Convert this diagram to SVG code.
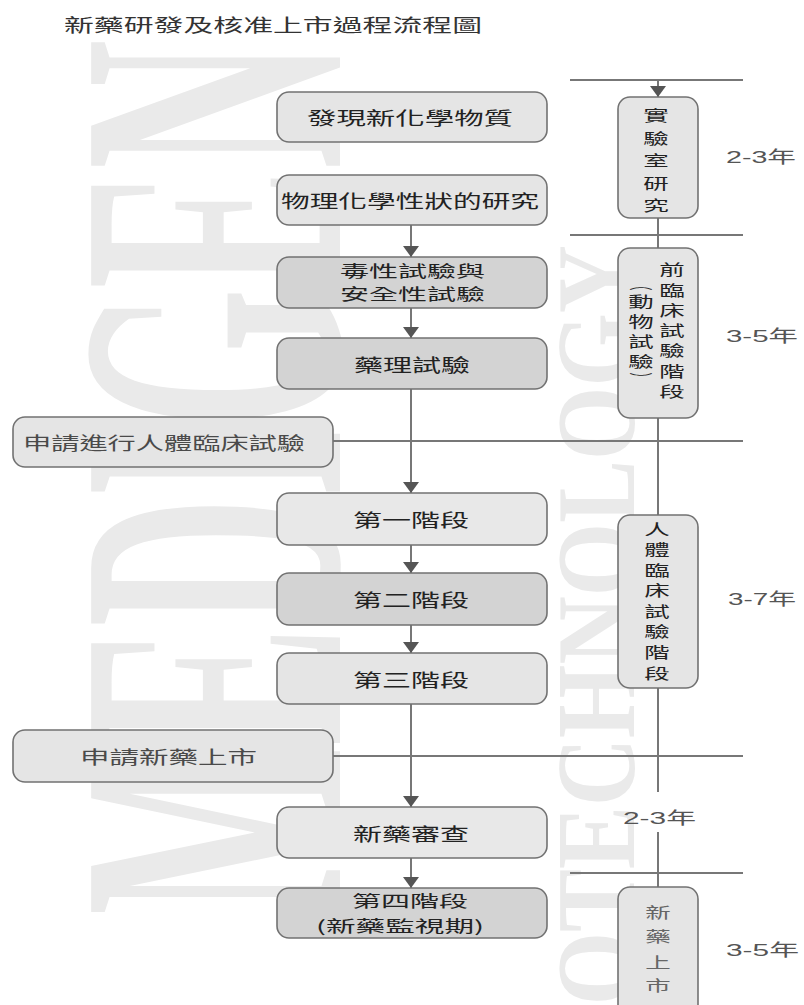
<svg xmlns="http://www.w3.org/2000/svg" width="804" height="1005" viewBox="0 0 804 1005">
<style>
.wm{font-family:"Liberation Serif",serif;font-weight:bold;fill:#eaeaea}
.bx{stroke:#727272;stroke-width:1.6}
.lt{fill:#e5e5e5}
.lt2{fill:#e8e8e8}
.dk{fill:#d3d3d3}
.t{font-family:"Noto Sans CJK TC","Noto Sans CJK SC",sans-serif;font-size:18px;fill:#222;dominant-baseline:central}
.t2{font-size:16px}
.g{fill:#4a4a4a}
.v{font-family:"Noto Sans CJK TC","Noto Sans CJK SC",sans-serif;font-size:15px;fill:#222;dominant-baseline:central;text-anchor:middle}
.p{font-size:9px}
.yr{font-family:"Liberation Sans","Noto Sans CJK TC",sans-serif;font-size:17px;fill:#555;dominant-baseline:central}
.ln{stroke:#777;stroke-width:2;fill:none}
</style>
<defs>
<marker id="ah" markerUnits="userSpaceOnUse" markerWidth="11" markerHeight="16" viewBox="0 0 11 16" refX="11" refY="8" orient="auto">
<path d="M0,0 L11,8 L0,16 z" fill="#555"/>
</marker>
<clipPath id="pg"><rect width="804" height="1005"/></clipPath>
</defs>
<rect width="804" height="1005" fill="#fff"/>
<g id="watermark" clip-path="url(#pg)">
<text class="wm" transform="translate(340,915) rotate(-90)" x="0" y="0" font-size="380" textLength="875" lengthAdjust="spacingAndGlyphs">MEDIGEN</text>
<text class="wm" transform="translate(634,1105) rotate(-90)" x="0" y="0" font-size="113" textLength="860" lengthAdjust="spacingAndGlyphs">BIOTECHNOLOGY</text>
</g>
<g id="title">
<text class="t" x="64" y="24" textLength="418" lengthAdjust="spacingAndGlyphs" style="fill:#333">新藥研發及核准上市過程流程圖</text>
</g>
<g id="connectors">
<line class="ln" x1="570" y1="80" x2="743" y2="80"/>
<line class="ln" x1="570" y1="235" x2="743" y2="235"/>
<line class="ln" x1="333" y1="441" x2="743" y2="441"/>
<line class="ln" x1="333" y1="756" x2="743" y2="756"/>
<line class="ln" x1="570" y1="873" x2="743" y2="873"/>
<line class="ln" x1="658" y1="80" x2="658" y2="97" marker-end="url(#ah)"/>
<line class="ln" x1="658" y1="218" x2="658" y2="248"/>
<line class="ln" x1="658" y1="418" x2="658" y2="515"/>
<line class="ln" x1="658" y1="688" x2="658" y2="792"/>
<line class="ln" x1="658" y1="832" x2="658" y2="887"/>
<line class="ln" x1="411" y1="225" x2="411" y2="257" marker-end="url(#ah)"/>
<line class="ln" x1="411" y1="308" x2="411" y2="338" marker-end="url(#ah)"/>
<line class="ln" x1="411" y1="389" x2="411" y2="493" marker-end="url(#ah)"/>
<line class="ln" x1="411" y1="545" x2="411" y2="573" marker-end="url(#ah)"/>
<line class="ln" x1="411" y1="625" x2="411" y2="653" marker-end="url(#ah)"/>
<line class="ln" x1="411" y1="704" x2="411" y2="807" marker-end="url(#ah)"/>
<line class="ln" x1="411" y1="858" x2="411" y2="888" marker-end="url(#ah)"/>
</g>
<g id="n1"><rect class="bx lt" x="277" y="92" width="270" height="50" rx="12"/><text class="t" x="307" y="117" textLength="206" lengthAdjust="spacingAndGlyphs">發現新化學物質</text></g>
<g id="n2"><rect class="bx lt" x="277" y="175" width="270" height="50" rx="12"/><text class="t" x="281" y="200" textLength="258" lengthAdjust="spacingAndGlyphs">物理化學性狀的研究</text></g>
<g id="n3"><rect class="bx dk" x="277" y="257" width="270" height="51" rx="12"/><text class="t t2" x="340" y="270" textLength="145" lengthAdjust="spacingAndGlyphs">毒性試驗與</text><text class="t t2" x="340" y="293" textLength="145" lengthAdjust="spacingAndGlyphs">安全性試驗</text></g>
<g id="n4"><rect class="bx dk" x="277" y="338" width="270" height="51" rx="12"/><text class="t" x="354" y="364" textLength="116" lengthAdjust="spacingAndGlyphs">藥理試驗</text></g>
<g id="n5"><rect class="bx lt" x="13" y="417" width="320" height="50" rx="12"/><text class="t g" x="23" y="442" textLength="282" lengthAdjust="spacingAndGlyphs">申請進行人體臨床試驗</text></g>
<g id="n6"><rect class="bx lt2" x="277" y="493" width="270" height="52" rx="12"/><text class="t" x="353" y="519" textLength="116" lengthAdjust="spacingAndGlyphs">第一階段</text></g>
<g id="n7"><rect class="bx dk" x="277" y="573" width="270" height="52" rx="12"/><text class="t" x="353" y="599" textLength="116" lengthAdjust="spacingAndGlyphs">第二階段</text></g>
<g id="n8"><rect class="bx lt" x="277" y="653" width="270" height="51" rx="12"/><text class="t" x="353" y="679" textLength="116" lengthAdjust="spacingAndGlyphs">第三階段</text></g>
<g id="n9"><rect class="bx lt" x="13" y="730" width="320" height="52" rx="12"/><text class="t g" x="80" y="756" textLength="177" lengthAdjust="spacingAndGlyphs">申請新藥上市</text></g>
<g id="n10"><rect class="bx lt2" x="277" y="807" width="270" height="51" rx="12"/><text class="t" x="353" y="833" textLength="116" lengthAdjust="spacingAndGlyphs">新藥審查</text></g>
<g id="n11"><rect class="bx dk" x="277" y="888" width="270" height="50" rx="12"/><text class="t t2" x="352" y="900" textLength="116" lengthAdjust="spacingAndGlyphs">第四階段</text><text class="t t2" x="316" y="925" textLength="168" lengthAdjust="spacingAndGlyphs">(新藥監視期)</text></g>
<g id="r1"><rect class="bx lt" x="618" y="97" width="80" height="121" rx="12"/>
<g transform="translate(656,0) scale(1.7,1)"><text class="v" x="0" y="115">實</text><text class="v" x="0" y="137.5">驗</text><text class="v" x="0" y="160">室</text><text class="v" x="0" y="182.5">研</text><text class="v" x="0" y="205">究</text></g></g>
<g id="r2"><rect class="bx lt" x="618" y="248" width="80" height="170" rx="12"/>
<g transform="translate(672,0) scale(1.7,1)"><text class="v" x="0" y="269">前</text><text class="v" x="0" y="290">臨</text><text class="v" x="0" y="310">床</text><text class="v" x="0" y="330">試</text><text class="v" x="0" y="350">驗</text><text class="v" x="0" y="371">階</text><text class="v" x="0" y="391">段</text></g>
<g transform="translate(641,0) scale(1.7,1)"><text class="v" x="0" y="301">動</text><text class="v" x="0" y="321">物</text><text class="v" x="0" y="341">試</text><text class="v" x="0" y="361">驗</text></g>
<g transform="translate(641,0) scale(2.6,1)"><text class="v p" x="0" y="285">︵</text><text class="v p" x="0" y="377">︶</text></g></g>
<g id="r3"><rect class="bx lt" x="618" y="515" width="80" height="173" rx="12"/>
<g transform="translate(657,0) scale(1.7,1)"><text class="v" x="0" y="529">人</text><text class="v" x="0" y="549">體</text><text class="v" x="0" y="570">臨</text><text class="v" x="0" y="590">床</text><text class="v" x="0" y="611">試</text><text class="v" x="0" y="631">驗</text><text class="v" x="0" y="652">階</text><text class="v" x="0" y="673">段</text></g></g>
<g id="r4"><rect class="bx lt" x="618" y="887" width="80" height="130" rx="12"/>
<g transform="translate(658,0) scale(1.7,1)"><text class="v" x="0" y="912" style="fill:#666">新</text><text class="v" x="0" y="936" style="fill:#666">藥</text><text class="v" x="0" y="962" style="fill:#666">上</text><text class="v" x="0" y="985" style="fill:#666">市</text></g></g>
<g id="labels">
<text class="yr" x="726" y="157" textLength="70" lengthAdjust="spacingAndGlyphs">2-3年</text>
<text class="yr" x="726" y="336" textLength="72" lengthAdjust="spacingAndGlyphs">3-5年</text>
<text class="yr" x="728" y="599" textLength="68" lengthAdjust="spacingAndGlyphs">3-7年</text>
<text class="yr" x="623" y="818" textLength="73" lengthAdjust="spacingAndGlyphs">2-3年</text>
<text class="yr" x="726" y="950" textLength="73" lengthAdjust="spacingAndGlyphs">3-5年</text>
</g>
</svg>
